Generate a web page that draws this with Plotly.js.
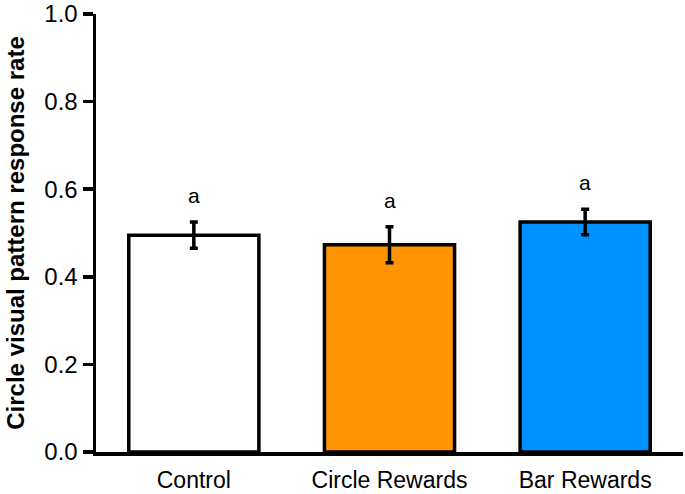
<!DOCTYPE html>
<html>
<head>
<meta charset="utf-8">
<script src="https://cdn.plot.ly/plotly-3.0.1.min.js"></script>
<style>html,body{margin:0;padding:0;background:#fff;}#chart{width:685px;height:494px;}</style>
</head>
<body>
<div id="chart"></div>
<script>
const categories = ["Control", "Circle Rewards", "Bar Rewards"];
const values = [0.495, 0.473, 0.525];
const errors = [0.030, 0.041, 0.029];
const letters = ["a", "a", "a"];
const colors = ["#FFFFFF", "#FF9400", "#0091FF"];
const yTicks = [0, 0.2, 0.4, 0.6, 0.8, 1.0];

const trace = {
  type: "bar",
  x: categories,
  y: values,
  width: 0.665,
  marker: {color: colors, line: {color: "#000", width: 3.5}},
  error_y: {type: "data", array: errors, visible: true, color: "#000", thickness: 3.5, width: 4},
  hoverinfo: "none"
};

const annotations = categories.map((c, i) => ({
  x: c, y: values[i] + errors[i], xref: "x", yref: "y",
  text: letters[i], showarrow: false, yanchor: "bottom", yshift: 13,
  font: {family: "Liberation Sans, Arial, sans-serif", size: 21, color: "#000"}
}));

const layout = {
  width: 685, height: 494,
  margin: {l: 96, r: 2, t: 14, b: 42},
  paper_bgcolor: "#fff", plot_bgcolor: "#fff",
  showlegend: false,
  font: {family: "Liberation Sans, Arial, sans-serif", color: "#000"},
  xaxis: {
    range: [-0.5, 2.5], showline: true, linecolor: "#000", linewidth: 3.5,
    ticks: "", showgrid: false, zeroline: false, ticklabelstandoff: 5,
    tickfont: {size: 23, color: "#000"}, fixedrange: true
  },
  yaxis: {
    range: [0, 1.0], tickvals: yTicks, tickformat: ".1f",
    showline: true, linecolor: "#000", linewidth: 3.5,
    ticks: "outside", ticklen: 10, tickwidth: 3.5, tickcolor: "#000",
    showgrid: false, zeroline: false, ticklabeloverflow: "allow",
    tickfont: {size: 24, color: "#000"},
    title: {text: "<b>Circle visual pattern response rate</b>", font: {size: 24, color: "#000"}, standoff: 14},
    fixedrange: true
  },
  annotations: annotations,
  bargap: 0.335
};

Plotly.newPlot("chart", [trace], layout, {displayModeBar: false, staticPlot: true});
</script>
</body>
</html>
